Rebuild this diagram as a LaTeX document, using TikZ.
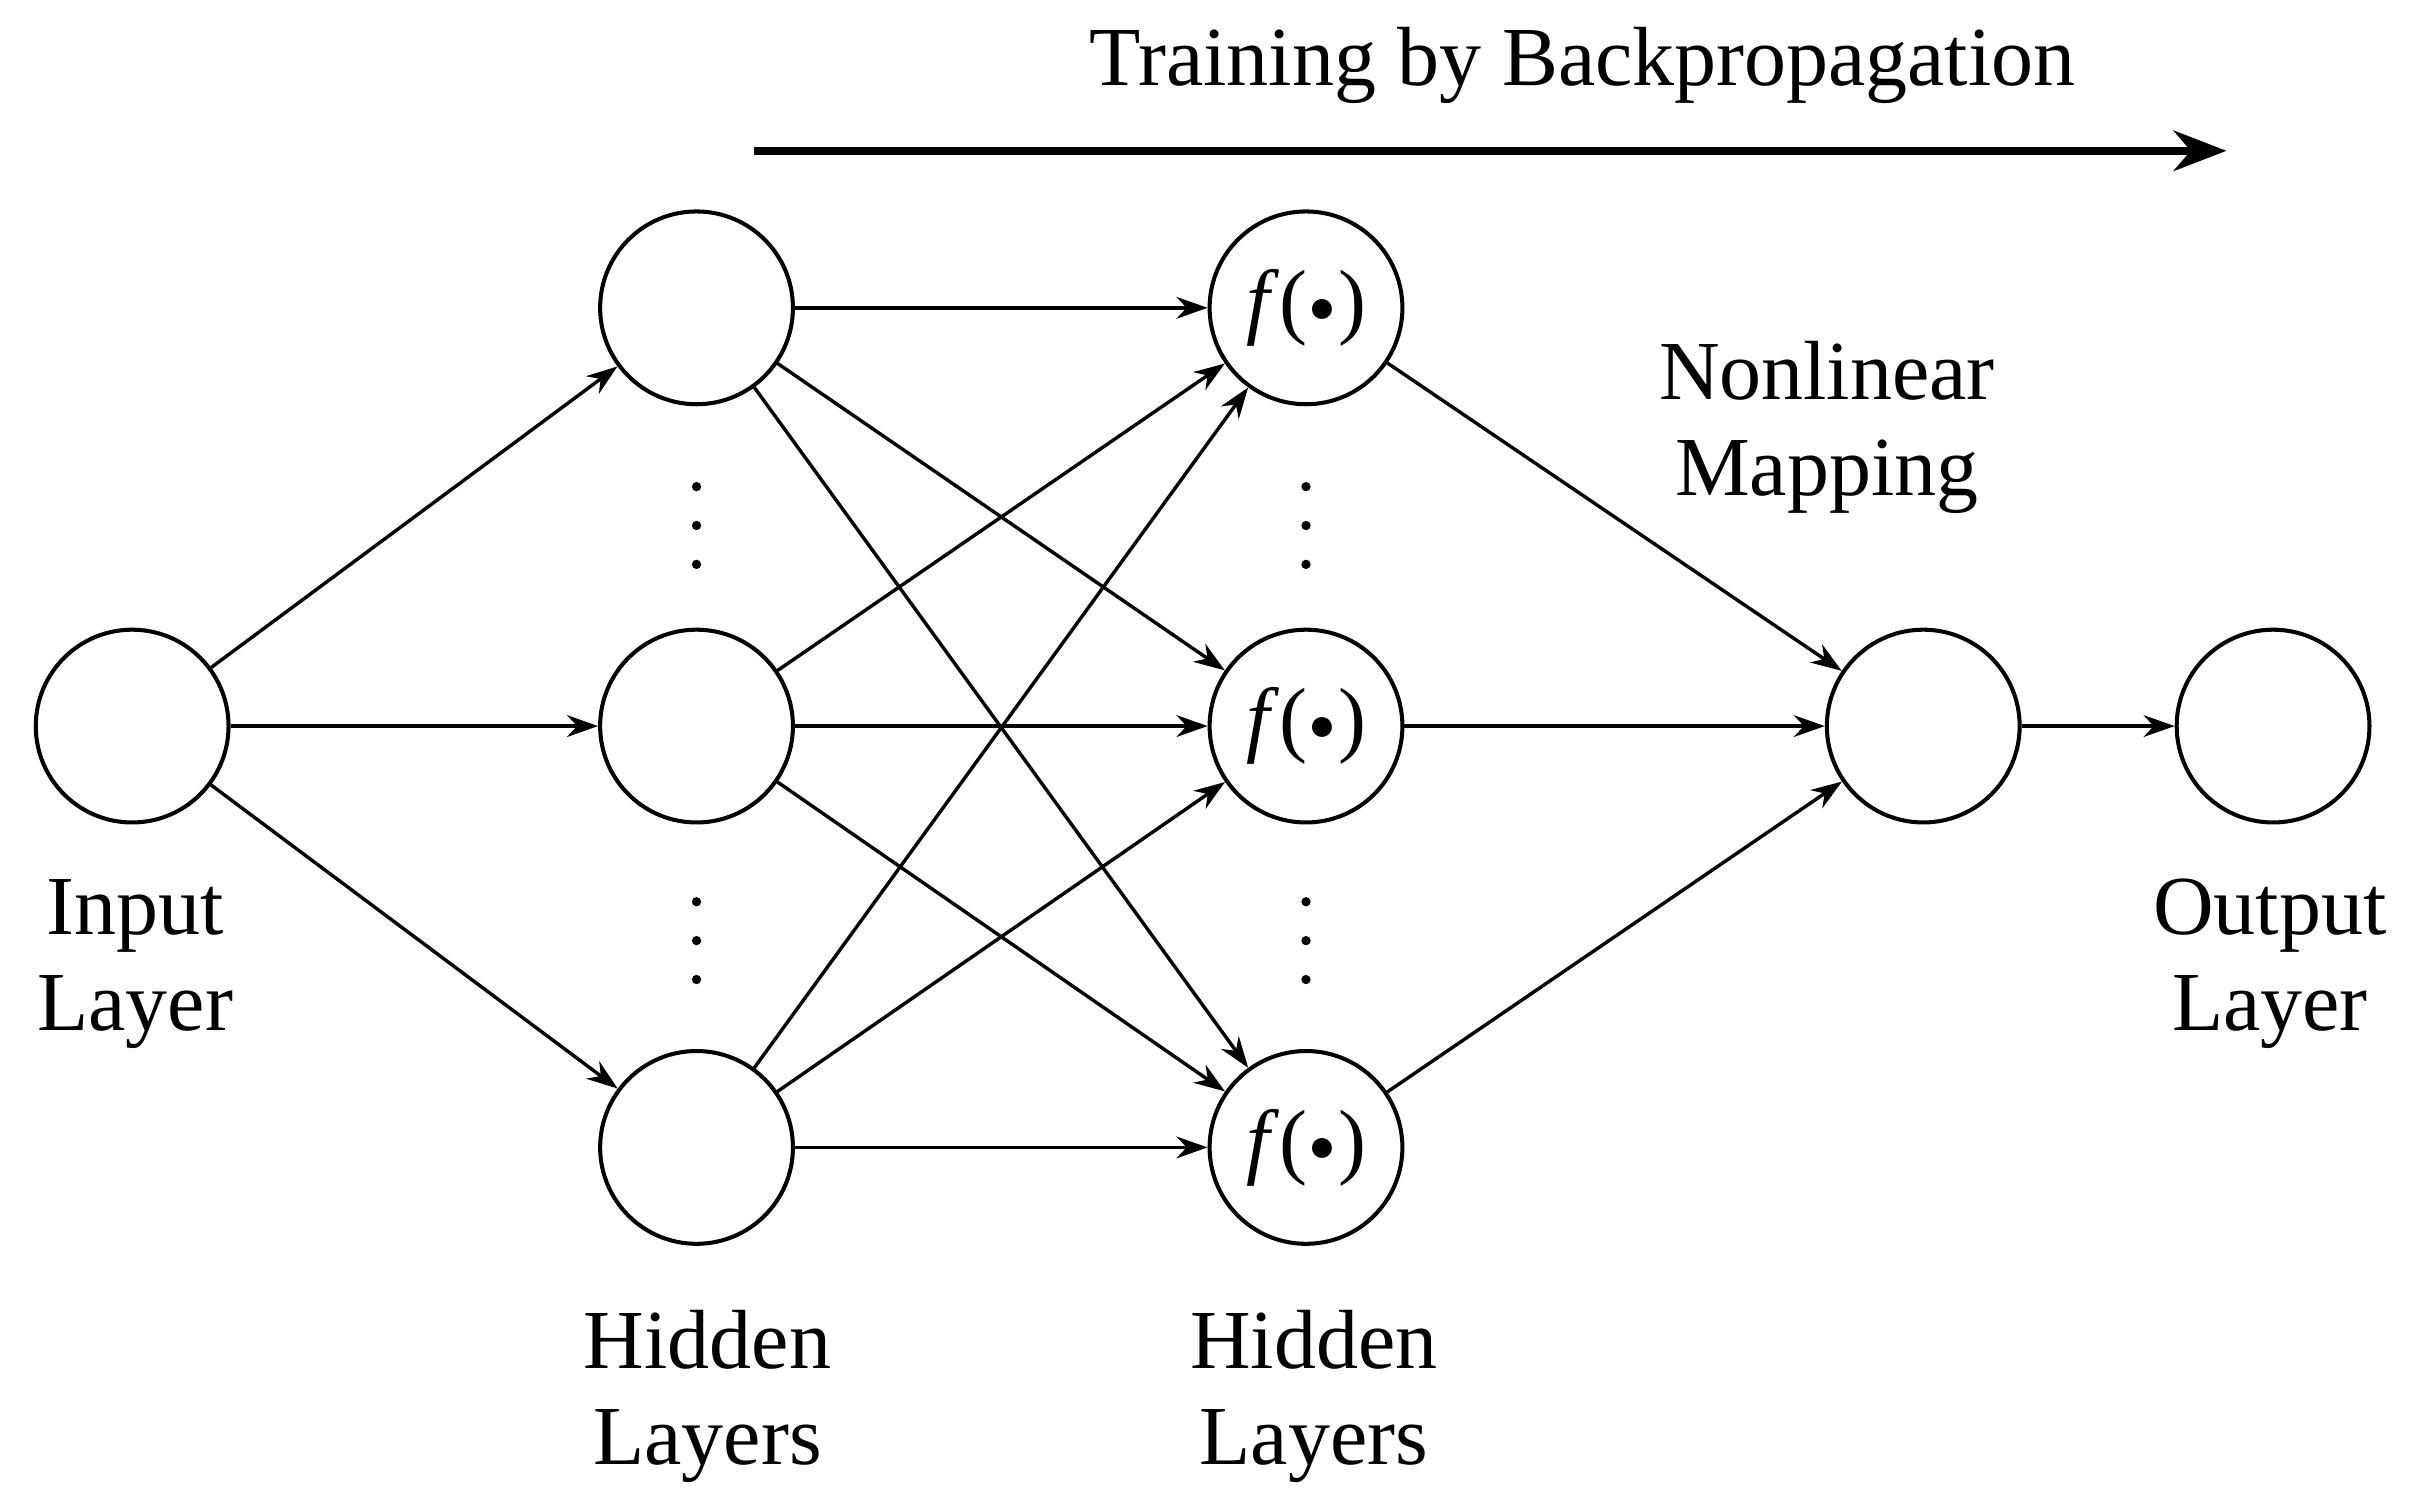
\documentclass[tikz,border=0pt]{standalone}
\usepackage{fontspec}
\setmainfont{Liberation Serif}
\usetikzlibrary{arrows.meta}
\begin{document}
\begin{tikzpicture}[x=1pt,y=-1pt,
  neuron/.style={circle,draw,line width=2.6pt,minimum size=124pt,inner sep=0pt},
  conn/.style={line width=2.2pt,-{Stealth[length=20pt,width=14pt]}},
  lbl/.style={align=center,font=\fontsize{54}{62}\selectfont},
  dot/.style={fill,circle,inner sep=0pt,minimum size=6pt}]
\useasboundingbox (0,0) rectangle (1552,968);
\node[neuron] (in) at (85,467) {};
\foreach \n/\y in {1/198,2/467,3/738}{
  \node[neuron] (a\n) at (448,\y) {};
  \node[neuron,font=\fontsize{54}{62}\selectfont] (b\n) at (840,\y) {\textit{f}(\kern1pt\raisebox{4pt}{\scalebox{0.55}{●}}\kern1pt)};
}
\node[neuron] (m) at (1237,467) {};
\node[neuron] (out) at (1462,467) {};
\foreach \i in {1,2,3}{
  \draw[conn] (in) -- (a\i);
  \draw[conn] (b\i) -- (m);
  \foreach \j in {1,2,3}{\draw[conn] (a\i) -- (b\j);}
}
\draw[conn] (m) -- (out);
\foreach \x in {448,840}{
  \foreach \y in {313,338,363,580,605,630}{\node[dot] (d\x\y) at (\x,\y) {};}
}
\coordinate (ts) at (485,97);
\coordinate (te) at (1432,97);
\draw[line width=5pt,-{Stealth[length=34pt,width=26pt]}] (ts) -- (te);
\node[lbl] (t) at (1018,42) {Training by Backpropagation};
\node[lbl] (li) at (87,620) {Input\\Layer};
\node[lbl] (lh1) at (455,898) {Hidden\\Layers};
\node[lbl] (lh2) at (845,898) {Hidden\\Layers};
\node[lbl] (lo) at (1460,620) {Output\\Layer};
\node[lbl] (ln) at (1175,275) {Nonlinear\\Mapping};
\end{tikzpicture}
\end{document}
